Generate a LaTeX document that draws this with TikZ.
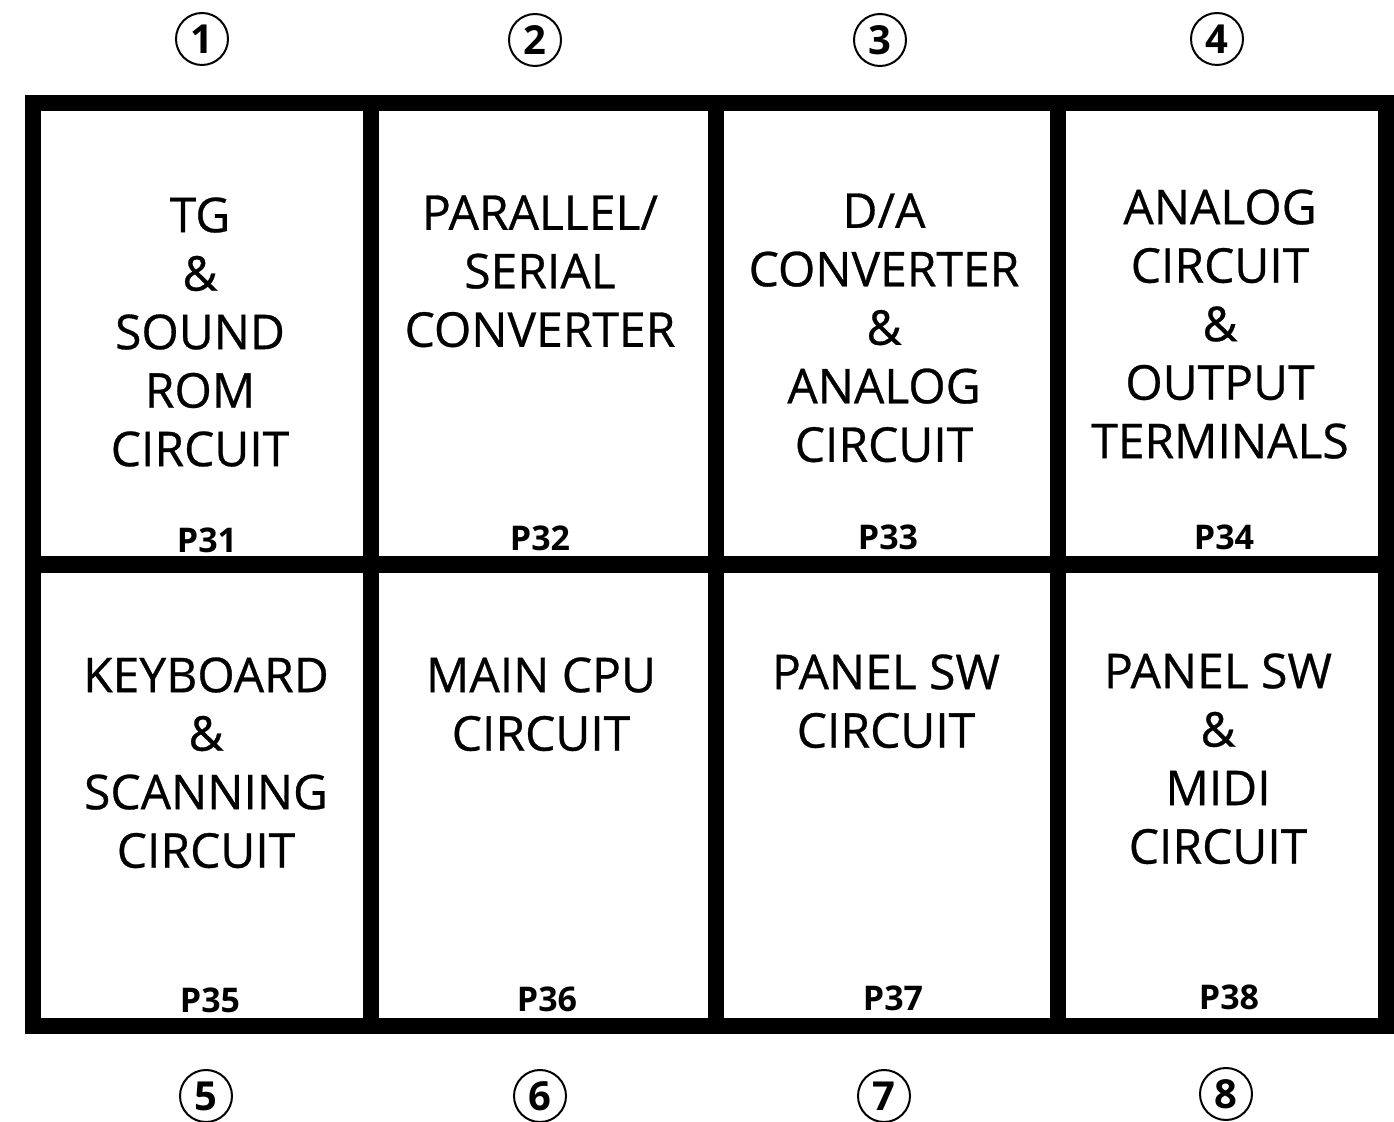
\documentclass[tikz,border=0pt]{standalone}
\usepackage{fontspec}
\usepackage{tikz}
\usetikzlibrary{positioning}
\setmainfont{Open Sans}
\newfontfamily\boardfont{Open Sans}[FakeBold=0.6]

\begin{document}
\begin{tikzpicture}[
  x=0.5pt, y=-0.5pt,
  cell/.style={
    draw=black, line width=8pt, inner sep=0pt,
    minimum height=231pt
  },
  txt/.style={
    anchor=north, align=center, inner sep=0pt,
    font=\boardfont\fontsize{24}{29.25}\selectfont
  },
  pg/.style={inner sep=0pt, font=\bfseries\fontsize{17}{20}\selectfont},
  num/.style={
    circle, draw=black, line width=1pt, inner sep=0pt,
    minimum size=26pt, font=\bfseries\fontsize{20}{24}\selectfont
  }
]
  \useasboundingbox (0,0) rectangle (1394,1122);

  % Top row of boards
  \node[cell, minimum width=169pt]   (tg)   at (202,   334) {};
  \node[cell, minimum width=172.5pt] (ps)   at (543.5, 334) {};
  \node[cell, minimum width=171pt]   (da)   at (887,   334) {};
  \node[cell, minimum width=164pt]   (ana)  at (1222,  334) {};

  % Bottom row of boards
  \node[cell, minimum width=169pt]   (kbd)  at (202,   795.5) {};
  \node[cell, minimum width=172.5pt] (cpu)  at (543.5, 795.5) {};
  \node[cell, minimum width=171pt]   (psw)  at (887,   795.5) {};
  \node[cell, minimum width=164pt]   (midi) at (1222,  795.5) {};

  % Board names
  \node[txt] (tgtxt)   at (200,  197) {TG\\\&\\SOUND\\ROM\\CIRCUIT};
  \node[txt] (pstxt)   at (540,  195) {PARALLEL/\\SERIAL\\CONVERTER};
  \node[txt] (datxt)   at (884,  193) {D/A\\CONVERTER\\\&\\ANALOG\\CIRCUIT};
  \node[txt] (anatxt)  at (1220, 189) {ANALOG\\CIRCUIT\\\&\\OUTPUT\\TERMINALS};
  \node[txt] (kbdtxt)  at (206,  657) {KEYBOARD\\\&\\SCANNING\\CIRCUIT};
  \node[txt] (cputxt)  at (541,  657) {MAIN CPU\\CIRCUIT};
  \node[txt] (pswtxt)  at (886,  654) {PANEL SW\\CIRCUIT};
  \node[txt] (miditxt) at (1218, 653) {PANEL SW\\\&\\MIDI\\CIRCUIT};

  % Page references
  \node[pg] (p31) at (207,  540) {P31};
  \node[pg] (p32) at (540,  538) {P32};
  \node[pg] (p33) at (888,  537) {P33};
  \node[pg] (p34) at (1224, 537) {P34};
  \node[pg] (p35) at (210,  1000) {P35};
  \node[pg] (p36) at (547,  999) {P36};
  \node[pg] (p37) at (893,  998) {P37};
  \node[pg] (p38) at (1229, 997) {P38};

  % Circled board numbers
  \node[num] (n1) at (202,  39)   {1};
  \node[num] (n2) at (535,  40)   {2};
  \node[num] (n3) at (880,  40)   {3};
  \node[num] (n4) at (1217, 39)   {4};
  \node[num] (n5) at (206,  1096) {5};
  \node[num] (n6) at (540,  1096) {6};
  \node[num] (n7) at (884,  1096) {7};
  \node[num] (n8) at (1226, 1094) {8};
\end{tikzpicture}
\end{document}
